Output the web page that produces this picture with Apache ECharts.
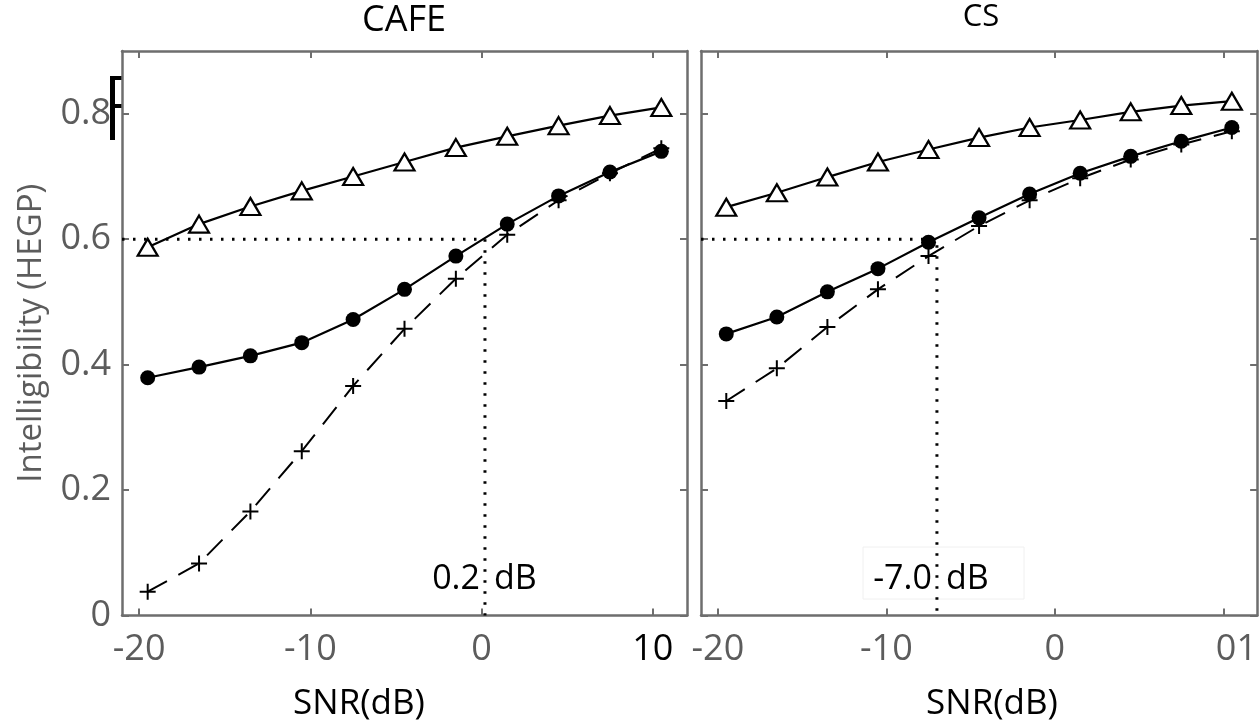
<!DOCTYPE html>
<html>
<head>
<meta charset="utf-8">
<script src="https://cdn.jsdelivr.net/npm/echarts@6/dist/echarts.min.js"></script>
<style>
  html, body { margin: 0; padding: 0; background: #fff; }
  #chart { width: 1260px; height: 728px; }
</style>
</head>
<body>
<div id="chart"></div>
<script>
// SNR values (dB) at which intelligibility was measured
const snrPoints = [-19.5, -16.5, -13.5, -10.5, -7.5, -4.5, -1.5, 1.5, 4.5, 7.5, 10.5];

// CAFE noise
const cafeTriangle = [0.587, 0.624, 0.652, 0.677, 0.700, 0.723, 0.746, 0.764, 0.781, 0.797, 0.810];
const cafeCircle   = [0.379, 0.396, 0.414, 0.435, 0.472, 0.520, 0.573, 0.624, 0.669, 0.707, 0.740];
const cafeCross    = [0.038, 0.083, 0.166, 0.262, 0.366, 0.457, 0.537, 0.607, 0.662, 0.705, 0.745];

// CS noise
const csTriangle = [0.651, 0.674, 0.699, 0.723, 0.743, 0.762, 0.778, 0.790, 0.803, 0.813, 0.820];
const csCircle   = [0.449, 0.476, 0.516, 0.553, 0.595, 0.634, 0.672, 0.705, 0.732, 0.756, 0.778];
const csCross    = [0.342, 0.394, 0.460, 0.520, 0.573, 0.621, 0.662, 0.697, 0.727, 0.751, 0.772];

// Target intelligibility and the SNR where it is reached
const targetLevel = 0.6;
const cafeCrossing = 0.2;
const csCrossing = -7.0;

// Axis ranges and tick labels
const snrRange = [-21, 12];
const intelRange = [0, 0.9];
const xTicks = [-20, -10, 0, 10];
const yTicks = [0, 0.2, 0.4, 0.6, 0.8];

const FONT = '"Open Sans", "Noto Sans", sans-serif';
const FRAME = '#6e6e6e';
const LABEL = '#5c5c5c';

const pairs = (xs, ys) => xs.map((x, i) => [x, ys[i]]);

const chart = echarts.init(document.getElementById('chart'), null, { renderer: 'canvas' });

const grids = [
  { left: 122, top: 51, width: 565, height: 564.5, containLabel: false },
  { left: 701, top: 51, width: 565, height: 564.5, containLabel: false }
];

const tickStyle = { color: FRAME, width: 2 };

function frameAxis(gridIndex, position, extra) {
  return Object.assign({
    type: 'value',
    gridIndex: gridIndex,
    position: position,
    axisLine: { show: true, onZero: false, lineStyle: { color: FRAME, width: 2.5 } },
    splitLine: { show: false },
    axisLabel: { show: false }
  }, extra);
}

function xAxisFor(gridIndex, position, labels) {
  return frameAxis(gridIndex, position, {
    min: snrRange[0], max: snrRange[1],
    axisTick: { show: true, inside: true, length: 7, customValues: xTicks, lineStyle: tickStyle },
    axisLabel: labels || { show: false }
  });
}

function yAxisFor(gridIndex, position, labels, name) {
  return frameAxis(gridIndex, position, Object.assign({
    min: intelRange[0], max: intelRange[1],
    axisTick: { show: true, inside: true, length: 7, customValues: yTicks, lineStyle: tickStyle },
    axisLabel: labels || { show: false }
  }, name || {}));
}

const xLabelBase = {
  show: true, customValues: xTicks, margin: 16,
  color: LABEL, fontFamily: FONT, fontSize: 36
};

const option = {
  animation: false,
  backgroundColor: '#fff',
  grid: grids,
  xAxis: [
    xAxisFor(0, 'bottom', Object.assign({}, xLabelBase, {
      formatter: v => v === 10 ? '{k|10}' : String(v),
      rich: { k: { color: '#000', fontFamily: FONT, fontSize: 36 } }
    })),
    xAxisFor(0, 'top'),
    xAxisFor(1, 'bottom', Object.assign({}, xLabelBase, {
      formatter: v => v === 10 ? '{k|01}' : String(v),
      rich: { k: { color: LABEL, fontFamily: FONT, fontSize: 36, padding: [0, 0, 0, 26] } }
    })),
    xAxisFor(1, 'top')
  ],
  yAxis: [
    yAxisFor(0, 'left', {
      show: true, customValues: yTicks, margin: 11,
      color: LABEL, fontFamily: FONT, fontSize: 36
    }, {
      name: 'Intelligibility (HEGP)',
      nameLocation: 'middle',
      nameGap: 74,
      nameRotate: 90,
      nameTextStyle: { color: LABEL, fontFamily: FONT, fontSize: 33, padding: [0, 0, 0, 0] }
    }),
    yAxisFor(0, 'right'),
    yAxisFor(1, 'left'),
    yAxisFor(1, 'right')
  ],
  graphic: [
    // panel titles
    { type: 'text', x: 404, y: 21, style: { text: 'CAFE', fill: '#000', font: '36px ' + FONT, align: 'center', verticalAlign: 'middle' } },
    { type: 'text', x: 981, y: 17, style: { text: 'CS', fill: '#000', font: '31px ' + FONT, align: 'center', verticalAlign: 'middle' } },
    // x-axis names
    { type: 'text', x: 359, y: 704, style: { text: 'SNR(dB)', fill: '#000', font: '35px ' + FONT, align: 'center', verticalAlign: 'middle' } },
    { type: 'text', x: 992, y: 704, style: { text: 'SNR(dB)', fill: '#000', font: '35px ' + FONT, align: 'center', verticalAlign: 'middle' } },
    // bracket mark beside the 0.8 tick
    { type: 'line', shape: { x1: 112.5, y1: 76, x2: 112.5, y2: 140 }, style: { stroke: '#000', lineWidth: 5 } },
    { type: 'line', shape: { x1: 110, y1: 78, x2: 122, y2: 78 }, style: { stroke: '#000', lineWidth: 4 } },
    { type: 'line', shape: { x1: 112, y1: 106, x2: 122, y2: 106 }, style: { stroke: '#000', lineWidth: 4 } },
    // faint frame round the CS crossing label
    { type: 'rect', shape: { x: 863, y: 547, width: 161, height: 52 }, style: { fill: 'none', stroke: '#f0f0f0', lineWidth: 1 }, z: 0 }
  ],
  series: []
};

const labelY = 0.058;

function panelSeries(p, tri, circ, cross, crossing) {
  const axes = { xAxisIndex: p * 2, yAxisIndex: p * 2 };
  const base = Object.assign({ type: 'line', silent: true, emphasis: { disabled: true } }, axes);
  const labelText = { color: '#000', opacity: 1, fontFamily: FONT, fontSize: 34, textBorderWidth: 0 };
  return [
    // dotted guide: target level across to the crossing SNR, then down to the axis
    Object.assign({}, base, {
      data: [[snrRange[0], targetLevel], [crossing, targetLevel], [crossing, intelRange[0]]],
      symbol: 'none', z: 1,
      lineStyle: { color: '#000', width: 3, type: [2.5, 8.5], cap: 'butt' }
    }),
    Object.assign({}, base, {
      data: pairs(snrPoints, cross),
      symbol: 'path://M-1,-8 h2 v16 h-2 z M-8,-1 h16 v2 h-16 z',
      symbolSize: 16, showSymbol: true, z: 2,
      itemStyle: { color: '#000' },
      lineStyle: { color: '#000', width: 2, type: [22, 13] }
    }),
    Object.assign({}, base, {
      data: pairs(snrPoints, circ),
      symbol: 'circle', symbolSize: 15, showSymbol: true, z: 3,
      itemStyle: { color: '#000' },
      lineStyle: { color: '#000', width: 2.2 }
    }),
    Object.assign({}, base, {
      data: pairs(snrPoints, tri),
      symbol: 'triangle', symbolSize: [20, 17], showSymbol: true, z: 4,
      itemStyle: { color: '#fff', borderColor: '#000', borderWidth: 2.2 },
      lineStyle: { color: '#000', width: 2.2 }
    }),
    // crossing SNR label, split either side of the dotted line
    Object.assign({}, base, {
      type: 'scatter', symbolSize: 0, z: 5,
      itemStyle: { opacity: 1 },
      data: [[crossing, labelY]],
      label: Object.assign({
        show: true, position: 'left', distance: 5,
        formatter: () => crossing.toFixed(1)
      }, labelText)
    }),
    Object.assign({}, base, {
      type: 'scatter', symbolSize: 0, z: 5,
      itemStyle: { opacity: 1 },
      data: [[crossing, labelY]],
      label: Object.assign({
        show: true, position: 'right', distance: 9,
        formatter: 'dB'
      }, labelText)
    })
  ];
}

option.series = option.series
  .concat(panelSeries(0, cafeTriangle, cafeCircle, cafeCross, cafeCrossing))
  .concat(panelSeries(1, csTriangle, csCircle, csCross, csCrossing));

chart.setOption(option);
</script>
</body>
</html>
